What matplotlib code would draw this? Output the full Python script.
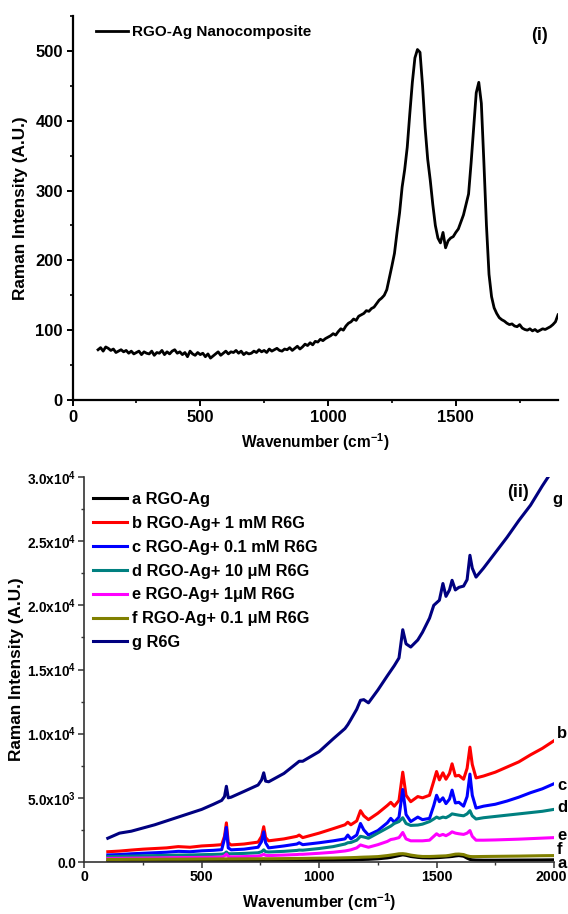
import numpy as np
import matplotlib
matplotlib.use("Agg")
import matplotlib.pyplot as plt
from matplotlib.transforms import ScaledTranslation

plt.rcParams['font.family'] = ['Liberation Sans', 'DejaVu Sans']
plt.rcParams['font.weight'] = 'bold'
plt.rcParams['mathtext.fontset'] = 'custom'
plt.rcParams['mathtext.rm'] = 'Liberation Sans:bold'
plt.rcParams['mathtext.default'] = 'rm'

# ---- panel (i): RGO-Ag nanocomposite, 100..1900 cm-1 every 10
wn1 = list(range(100, 1901, 10))
rgo_ag = [
    72, 75, 70, 76, 74, 71, 73, 68, 70, 72,
    69, 71, 67, 70, 66, 68, 70, 65, 69, 67,
    66, 70, 64, 68, 67, 71, 65, 69, 66, 70,
    72, 67, 69, 65, 68, 62, 70, 66, 64, 68,
    65, 67, 62, 66, 60, 63, 66, 69, 64, 67,
    70, 66, 69, 68, 71, 67, 70, 65, 68, 66,
    67, 70, 68, 72, 69, 71, 68, 73, 70, 72,
    74, 71, 70, 73, 72, 75, 71, 74, 77, 73,
    76, 80, 78, 82, 79, 84, 83, 87, 85, 88,
    90, 92, 95, 93, 98, 102, 100, 106, 110, 112,
    116, 114, 120, 122, 124, 128, 127, 131, 133, 138,
    143, 146, 150, 158, 175, 192, 210, 240, 268, 305,
    330, 362, 410, 455, 490, 502, 498, 450, 390, 345,
    315, 280, 250, 232, 225, 240, 218, 228, 232, 234,
    240, 245, 255, 265, 280, 295, 340, 390, 440, 455,
    425, 340, 250, 180, 148, 132, 124, 118, 115, 113,
    110, 108, 109, 106, 105, 108, 103, 101, 100, 102,
    99, 101, 98, 100, 102, 101, 103, 105, 108, 112,
    122,
]

# ---- panel (ii): SERS of R6G on RGO-Ag
wn2 = [100, 150, 200, 250, 300, 350, 400, 450, 500, 550, 585, 597, 605, 613,
       625, 680, 740, 755, 764, 772, 785, 850, 905, 915, 930, 1000, 1060, 1110,
       1122, 1135, 1160, 1176, 1190, 1210, 1250, 1290, 1305, 1320, 1340, 1356,
       1370, 1390, 1420, 1440, 1470, 1488, 1500, 1512, 1527, 1540, 1555, 1566,
       1580, 1595, 1615, 1630, 1642, 1652, 1668, 1700, 1750, 1800, 1850, 1900,
       1950, 2000]

a_rgo = [60, 70, 75, 80, 80, 85, 85, 90, 90, 95, 95, 95, 100, 95,
         95, 100, 100, 100, 105, 100, 100, 105, 110, 110, 110, 120, 130, 150,
         155, 160, 175, 190, 200, 210, 250, 320, 360, 420, 500, 560,
         520, 430, 360, 330, 320, 330, 340, 350, 370, 390, 410, 430,
         470, 500, 450, 300, 200, 170, 150, 140, 140, 145, 150, 155,
         160, 170]
b_1mM = [800, 850, 930, 1000, 1050, 1100, 1200, 1150, 1250, 1300, 1350, 2000, 3050, 1500,
         1330, 1400, 1550, 2000, 2750, 1900, 1650, 1800, 2000, 2100, 1900, 2250, 2600, 2900,
         3100, 2900, 3200, 4000, 3600, 3300, 3800, 4400, 4650, 4350, 4800, 7000,
         5200, 4700, 5100, 5000, 5200, 6300, 7050, 6400, 6950, 6450, 6900, 7650,
         6700, 6750, 6450, 7300, 8950, 7600, 6550, 6700, 7000, 7400, 7800, 8350,
         8850, 9450]
c_01mM = [550, 580, 640, 680, 720, 760, 830, 800, 870, 910, 960, 1800, 2700, 1100,
          950, 1000, 1150, 1600, 2350, 1500, 1100, 1250, 1400, 1500, 1350, 1500, 1650, 1800,
          2100, 1800, 2100, 3000, 2500, 2100, 2450, 3050, 3400, 3100, 3500, 5650,
          3700, 3150, 3500, 3300, 3400, 4400, 5200, 4700, 5000, 4550, 4900, 5600,
          4600, 4650, 4350, 5100, 6850, 5200, 4200, 4350, 4500, 4750, 5050, 5400,
          5700, 6100]
d_10uM = [420, 440, 460, 480, 500, 520, 540, 545, 570, 590, 610, 650, 780, 650,
          640, 670, 720, 800, 950, 800, 780, 830, 900, 930, 920, 1050, 1200, 1400,
          1500, 1520, 1700, 2000, 1950, 1850, 2250, 2650, 2800, 3000, 3150, 3450,
          3000, 2850, 2880, 2950, 3150, 3350, 3500, 3400, 3500, 3450, 3600, 3750,
          3700, 3650, 3600, 3750, 4000, 3600, 3350, 3450, 3550, 3650, 3750, 3850,
          3950, 4100]
e_1uM = [280, 290, 300, 310, 320, 330, 345, 350, 360, 370, 380, 480, 620, 430,
         400, 420, 460, 520, 600, 520, 500, 540, 580, 600, 600, 680, 760, 860,
         900, 950, 1100, 1330, 1250, 1150, 1350, 1600, 1750, 1800, 1900, 2300,
         1800, 1650, 1650, 1650, 1700, 2000, 2200, 2050, 2150, 2050, 2200, 2350,
         2250, 2200, 2150, 2250, 2450, 2000, 1700, 1700, 1720, 1750, 1780, 1820,
         1860, 1900]
f_01uM = [200, 200, 210, 210, 215, 220, 220, 225, 230, 235, 240, 240, 245, 240,
          240, 245, 250, 255, 260, 255, 255, 265, 275, 280, 280, 300, 310, 330,
          335, 340, 355, 370, 380, 390, 420, 500, 540, 580, 640, 650,
          620, 540, 460, 430, 430, 440, 450, 460, 470, 480, 520, 560,
          610, 620, 580, 480, 430, 420, 420, 430, 440, 450, 460, 475,
          490, 500]
g_r6g = [1850, 2250, 2400, 2650, 2900, 3200, 3500, 3800, 4100, 4500, 4800, 5100, 5900, 5000,
         5050, 5500, 6000, 6400, 6950, 6300, 6250, 6900, 7700, 7850, 7850, 8600, 9600, 10400,
         10700, 11100, 11900, 12600, 12650, 12400, 13400, 14500, 14900, 15300, 15900, 18100,
         17000, 16750, 17300, 17900, 19000, 20000, 20200, 20400, 21700, 20700, 21200, 21950,
         21200, 21400, 21500, 22000, 23900, 22900, 22200, 22900, 24100, 25300, 26600, 27800,
         29300, 30700]

series_labels = ['a RGO-Ag', 'b RGO-Ag+ 1 mM R6G', 'c RGO-Ag+ 0.1 mM R6G',
                 'd RGO-Ag+ 10 \u03bcM R6G', 'e RGO-Ag+ 1\u03bcM R6G',
                 'f RGO-Ag+ 0.1 \u03bcM R6G', 'g R6G']
series_colors = ['#000000', '#ff0000', '#0000ff', '#008080', '#ff00ff', '#808000', '#000080']
end_letters = ['g', 'b', 'c', 'd', 'e', 'f', 'a']
end_y = [500, 734, 785, 808, 835, 849, 864]   # pixel rows of the end letters

yt2 = [0, 5000, 10000, 15000, 20000, 25000, 30000]
yt2_labels = ['0.0', '5.0x10$^{3}$', '1.0x10$^{4}$', '1.5x10$^{4}$',
              '2.0x10$^{4}$', '2.5x10$^{4}$', '3.0x10$^{4}$']

W, H = 568, 914
fig = plt.figure(figsize=(W / 100, H / 100), dpi=100)

# ---------------- panel (i)
ax1 = fig.add_axes([72.5 / W, 1 - 400 / H, (558 - 72.5) / W, 384 / H])
ax1.plot(wn1, rgo_ag, color='black', lw=2.0, label='RGO-Ag Nanocomposite')
ax1.set_xlim(0, 1900)
ax1.set_ylim(0, 550)
ax1.set_xticks([0, 500, 1000, 1500])
ax1.set_xticks([250, 750, 1250, 1750], minor=True)
ax1.set_yticks(range(0, 501, 100))
ax1.set_yticks(range(50, 551, 100), minor=True)
for s in ['top', 'right']:
    ax1.spines[s].set_visible(False)
for s in ['left', 'bottom']:
    ax1.spines[s].set_linewidth(1.6)
ax1.tick_params(which='major', length=4, width=1.4, labelsize=12, pad=3)
ax1.tick_params(which='minor', length=2.5, width=1.2)
ax1.set_xlabel('Wavenumber (cm$^{-1}$)', fontsize=11.2, fontweight='bold', labelpad=5)
ax1.set_ylabel('Raman Intensity (A.U.)', fontsize=12.4, fontweight='bold', labelpad=5)
ax1.legend(loc='upper left', bbox_to_anchor=(96 / W, 1 - 25 / H), bbox_transform=fig.transFigure,
           frameon=False, borderpad=0, borderaxespad=0, handlelength=2.1, handletextpad=0.25,
           prop={'size': 11, 'weight': 'bold'})
fig.text(540 / W, 1 - 36 / H, '(i)', fontsize=13, fontweight='bold', ha='center', va='center')

# ---------------- panel (ii)
ax2 = fig.add_axes([84.3 / W, 1 - 862 / H, (554 - 84.3) / W, 385 / H])
y2 = [a_rgo, b_1mM, c_01mM, d_10uM, e_1uM, f_01uM, g_r6g]
for vals, lab, col in zip(y2, series_labels, series_colors):
    ax2.plot(wn2, vals, color=col, lw=2.2, label=lab)
ax2.set_xlim(0, 2000)
ax2.set_ylim(0, 30000)
ax2.set_xticks([0, 500, 1000, 1500, 2000])
ax2.set_xticks([250, 750, 1250, 1750], minor=True)
ax2.set_yticks(yt2)
ax2.set_yticklabels(yt2_labels)
ax2.set_yticks([2500, 7500, 12500, 17500, 22500, 27500], minor=True)
for s in ['top', 'right']:
    ax2.spines[s].set_visible(False)
for s in ['left', 'bottom']:
    ax2.spines[s].set_linewidth(1.2)
    ax2.spines[s].set_color('#333333')
ax2.tick_params(which='major', length=4, width=1.1, color='#333333', pad=2)
ax2.tick_params(axis='x', labelsize=10.2)
ax2.tick_params(axis='y', labelsize=9.8)
ax2.tick_params(which='minor', length=2.5, width=1.0, color='#333333')
# keep the last x label inside the canvas
last = ax2.get_xticklabels()[-1]
last.set_transform(last.get_transform() + ScaledTranslation(-3 / 100, 0, fig.dpi_scale_trans))
ax2.set_xlabel('Wavenumber (cm$^{-1}$)', fontsize=11.6, fontweight='bold', labelpad=5)
ax2.set_ylabel('Raman Intensity (A.U.)', fontsize=12.4, fontweight='bold', labelpad=2)
ax2.legend(loc='upper left', bbox_to_anchor=(93 / W, 1 - 492 / H), bbox_transform=fig.transFigure,
           frameon=False, borderpad=0, borderaxespad=0, handlelength=2.1, handletextpad=0.3,
           labelspacing=0.54, prop={'size': 11.8, 'weight': 'bold'})
fig.text(518 / W, 1 - 493 / H, '(ii)', fontsize=13, fontweight='bold', ha='center', va='center')
for lt, py in zip(end_letters, end_y):
    px = 552 if lt == 'g' else 557
    fig.text(px / W, 1 - py / H, lt, fontsize=12, fontweight='bold', ha='left', va='center')

fig.savefig('out.png', dpi=100)
